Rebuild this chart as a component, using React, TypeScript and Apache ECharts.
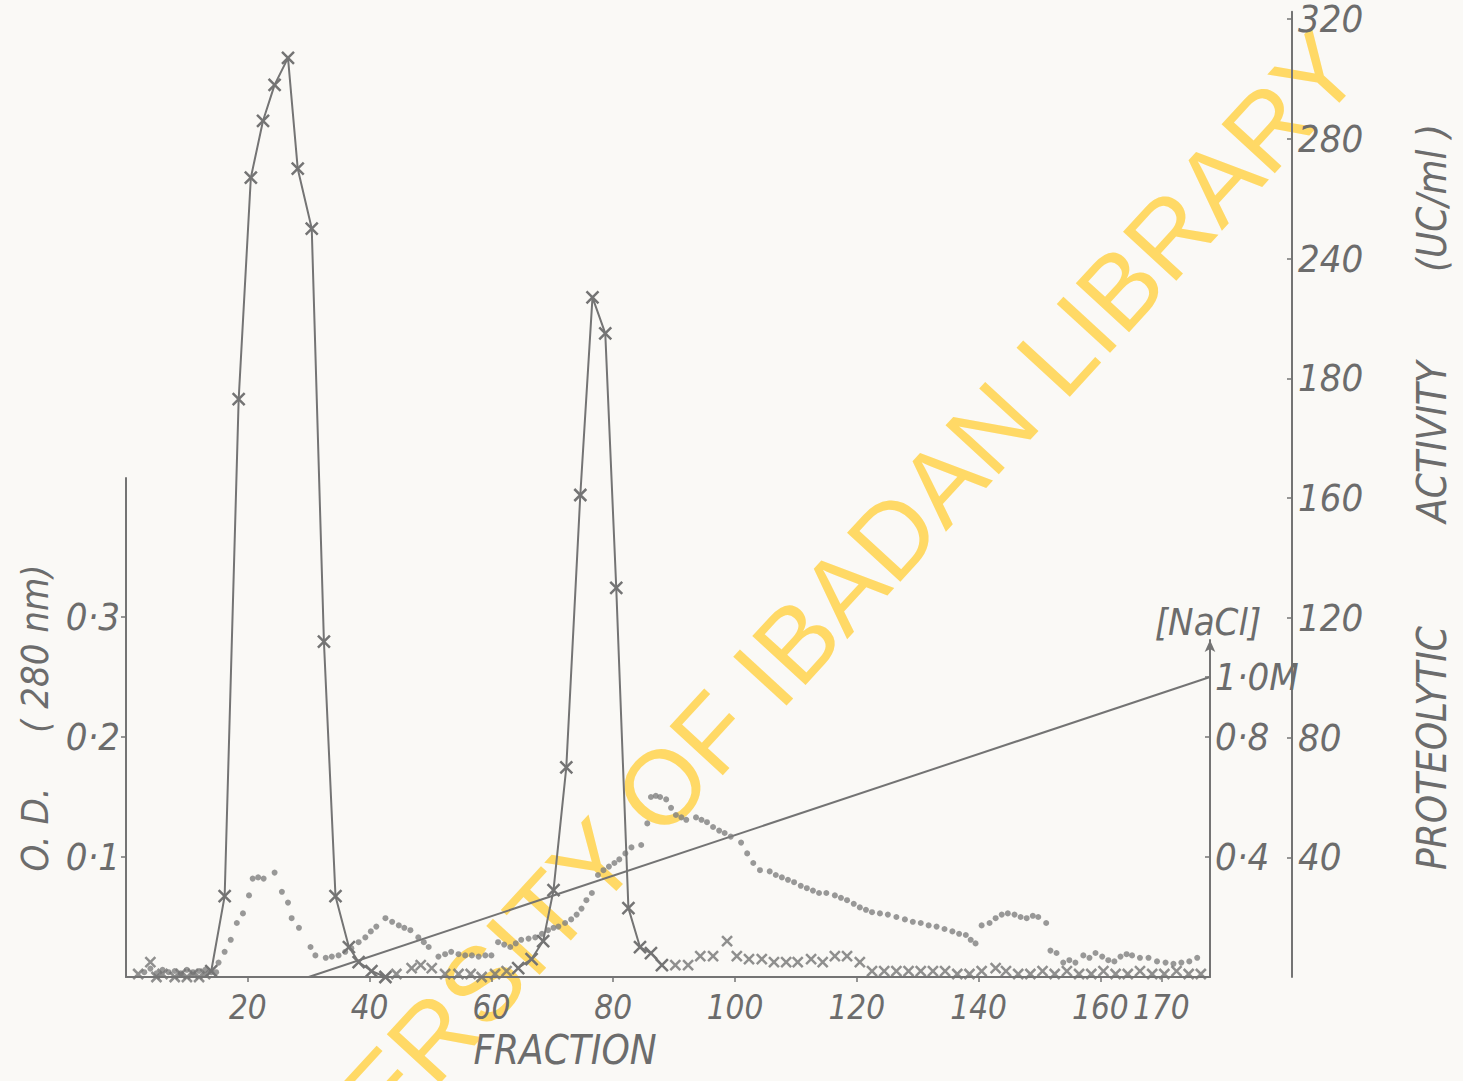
import React, { useEffect, useRef } from "react";
import * as echarts from "echarts";

// ---------- data ----------
const FRACTION_TICKS = [20, 40, 60, 80, 100, 120, 140, 160, 170];
const OD_TICKS = [0.1, 0.2, 0.3];
const OD_LABELS = ["0·1", "0·2", "0·3"];
const ACT_TICKS = [40, 80, 120, 160, 200, 240, 280, 320];
const ACT_LABELS = ["40", "80", "120", "160", "180", "240", "280", "320"];
const NACL_TICKS = [0.4, 0.8, 1.0];
const NACL_LABELS = ["0·4", "0·8", "1·0M"];

// proteolytic activity (UC/ml), crosses
const ACT_FRACTION = [
  2, 4, 5, 6, 8, 9, 10, 11, 12, 13,
  14, 16.2, 18.5, 20.5, 22.5, 24.4, 26.6, 28.2, 30.5, 32.5, 34.4, 36.6, 38.2, 40.3, 42.6,
  44.4, 46.9, 48.4, 50.2, 52.4, 54.6, 56.6, 58.4, 60.6, 62.5,
  64.4, 66.6, 68.5, 70.2, 72.3, 74.6, 76.6, 78.7, 80.5, 82.5, 84.4, 86.2, 88,
  90.2, 92.3, 94.3, 96.4, 98.7, 100.3, 102.3, 104.4, 106.4, 108.4, 110.3, 112.5, 114.4, 116.4,
  118.4, 120.5, 122.5, 124.5, 126.5, 128.5, 130.5, 132.5, 134.5, 136.5, 138.5, 140.5, 142.8,
  144.5, 146.5, 148.5, 150.5, 152.5, 154.5, 156.5, 158.5, 160.5, 162.5, 164.5, 166.5, 168.5,
  170.5, 172.5, 174.5, 176.5,
];
const ACT_VALUE = [
  1, 5, 0, 1, 0, 1, 0, 1, 0, 1,
  2, 27, 193, 267, 286, 298, 307, 270, 250, 112, 27, 10, 5, 2, 0,
  1, 3, 4, 3, 1, 1, 1, 0, 1, 2,
  3, 6, 12, 29, 70, 161, 227, 215, 130, 23, 10, 8, 4,
  4, 4, 7, 7, 12, 7, 6, 6, 5, 5, 5, 6, 5, 7,
  7, 5, 2, 2, 2, 2, 2, 2, 2, 1, 1, 2, 3,
  2, 1, 1, 2, 1, 2, 1, 1, 2, 1, 1, 2, 1,
  1, 2, 1, 1,
];
// fraction ranges where the activity points are joined by a line
const ACT_JOINED = [
  [14, 42.6],
  [64.4, 88],
];

// O.D. 280 nm, dots
const OD_FRACTION = [
  3, 4, 5, 6, 7, 8, 9, 10, 11, 12, 13, 14,
  14.8, 15.2, 16.2, 17.2, 18.2, 19.2, 20.2, 20.8, 21.7, 22.6, 24.4, 25.6, 26.6, 27.2, 28.4,
  30.3, 31.1, 32.8, 33.8, 34.9, 36, 37, 38.2, 39.3, 40.2, 41.1, 42.6, 43.7, 44.8, 45.7, 46.7,
  48, 48.9, 49.7, 51.3, 52.4, 53.4, 54.6, 55.7, 56.8, 57.9, 59, 60, 61.1, 62.1, 63.1, 64,
  64.9, 66.1, 67.2, 68.3, 69.3, 70.2, 71, 72.1, 73.1, 74, 74.8, 75.6, 76.5, 77.5, 78.4, 79.3,
  80.2, 81, 82, 83, 84.6, 85.6, 86.2, 87, 87.7, 88.7, 89.5, 90.3, 91.2, 92, 93.6, 94.5, 95.4,
  96.4, 97.4, 98.3, 99.3, 101, 102, 103, 104.1, 105.7, 106.7, 107.7, 108.7, 109.7, 110.8,
  111.8, 112.8, 113.8, 115, 116.4, 117.4, 118.4, 119.5, 120.5, 121.5, 122.5, 123.8, 125.1,
  126.5, 127.9, 129.2, 130.5, 131.8, 133.1, 134.4, 135.7, 136.8, 137.9, 138.7, 139.5, 140.5,
  141.8, 142.8, 143.8, 144.8, 145.9, 146.9, 147.9, 148.9, 149.8, 151.1,
  151.8, 152.8, 153.9, 154.9, 155.9, 157.2, 158.2, 159.2, 160.3, 161.3, 162.3, 163.3, 164.3,
  165.2, 166.5, 167.9, 169.3, 170.7, 172, 173.3, 174.6, 175.9,
];
const OD_VALUE = [
  0.004, 0.007, 0.003, 0.006, 0.004, 0.005, 0.003, 0.006, 0.004, 0.005, 0.006, 0.004,
  0.004, 0.012, 0.021, 0.031, 0.045, 0.053, 0.068, 0.082, 0.083, 0.082, 0.087, 0.071, 0.062, 0.049, 0.041,
  0.025, 0.018, 0.016, 0.017, 0.018, 0.021, 0.024, 0.029, 0.033, 0.038, 0.042, 0.049, 0.046, 0.043, 0.041, 0.039,
  0.033, 0.029, 0.025, 0.017, 0.019, 0.021, 0.019, 0.018, 0.018, 0.017, 0.018, 0.018, 0.029, 0.027, 0.025, 0.028,
  0.031, 0.032, 0.033, 0.036, 0.039, 0.041, 0.042, 0.045, 0.048, 0.052, 0.057, 0.064, 0.07, 0.085, 0.089, 0.092,
  0.095, 0.098, 0.103, 0.108, 0.11, 0.128, 0.15, 0.151, 0.15, 0.148, 0.141, 0.135, 0.133, 0.131, 0.133, 0.131, 0.129,
  0.125, 0.122, 0.12, 0.117, 0.112, 0.103, 0.095, 0.089, 0.088, 0.085, 0.083, 0.081, 0.079, 0.076,
  0.074, 0.072, 0.07, 0.07, 0.068, 0.066, 0.064, 0.061, 0.058, 0.056, 0.054, 0.053, 0.052,
  0.05, 0.048, 0.046, 0.045, 0.043, 0.042, 0.04, 0.038, 0.036, 0.035, 0.031, 0.028, 0.043,
  0.045, 0.049, 0.052, 0.053, 0.052, 0.05, 0.049, 0.051, 0.05, 0.045,
  0.022, 0.02, 0.012, 0.014, 0.012, 0.018, 0.016, 0.02, 0.017, 0.014, 0.013, 0.017, 0.019,
  0.018, 0.016, 0.016, 0.013, 0.012, 0.011, 0.012, 0.013, 0.016,
];

// NaCl gradient (M)
const NACL_FRACTION = [30, 178];
const NACL_VALUE = [0, 1.0];

// ---------- styling ----------
const INK = "#747474";
const TEXT = "#6c6c6c";
const FONT = "'DejaVu Sans Condensed', 'DejaVu Sans', sans-serif";
const CROSS = "path://M0,0L10,10M10,0L0,10";

const labelFor = (ticks: number[], labels: string[]) => (v: number) => {
  const i = ticks.findIndex((t) => Math.abs(t - v) < 1e-6);
  return i >= 0 ? labels[i] : "";
};

export default function App() {
  const ref = useRef<HTMLDivElement>(null);

  useEffect(() => {
    if (!ref.current) return;
    const chart = echarts.init(ref.current, undefined, { renderer: "svg" });

    const inJoined = (f: number) => ACT_JOINED.some(([a, b]) => f >= a && f <= b);
    const actLine = ACT_FRACTION.map((f, i) => (inJoined(f) ? [f, ACT_VALUE[i]] : [f, "-"]));
    const actLoose = ACT_FRACTION.map((f, i) => [f, ACT_VALUE[i]]).filter((p) => !inJoined(p[0] as number));
    const odData = OD_FRACTION.map((f, i) => [f, OD_VALUE[i]]);
    const naclData = NACL_FRACTION.map((f, i) => [f, NACL_VALUE[i]]);

    const gridBase = { left: 126, right: 253, bottom: 104 };
    const xBase = {
      type: "value",
      min: 0,
      max: 178,
      splitLine: { show: false },
      z: 2,
    };
    const labelStyle = {
      color: TEXT,
      fontFamily: FONT,
      fontStyle: "italic",
      fontSize: 38,
      hideOverlap: false,
    };

    chart.setOption({
      animation: false,
      backgroundColor: "#faf9f6",
      grid: [
        { ...gridBase, top: 0 },
        { ...gridBase, top: 478 },
        { ...gridBase, top: 640 },
      ],
      xAxis: [
        {
          ...xBase,
          gridIndex: 0,
          axisLine: { show: true, lineStyle: { color: INK, width: 2 } },
          axisTick: {
            show: true,
            length: 5,
            customValues: FRACTION_TICKS,
            lineStyle: { color: INK, width: 1.5 },
          },
          axisLabel: {
            ...labelStyle,
            fontSize: 33,
            margin: 14,
            customValues: FRACTION_TICKS,
            formatter: (v: number) => String(v),
          },
        },
        { ...xBase, gridIndex: 1, show: false },
        { ...xBase, gridIndex: 2, show: false },
      ],
      yAxis: [
        {
          // proteolytic activity
          type: "value",
          gridIndex: 0,
          position: "right",
          offset: 82,
          min: 0,
          max: 977 / 3.03,
          splitLine: { show: false },
          axisLine: { show: true, onZero: false, lineStyle: { color: INK, width: 2 } },
          axisTick: {
            show: true,
            inside: true,
            length: 5,
            customValues: ACT_TICKS,
            lineStyle: { color: INK, width: 1.5 },
          },
          axisLabel: {
            ...labelStyle,
            margin: 6,
            customValues: ACT_TICKS,
            formatter: labelFor(ACT_TICKS, ACT_LABELS),
          },
          z: 2,
        },
        {
          // O.D.
          type: "value",
          gridIndex: 1,
          position: "left",
          min: 0,
          max: (977 - 478) / 1200,
          splitLine: { show: false },
          axisLine: { show: true, onZero: false, lineStyle: { color: INK, width: 2 } },
          axisTick: {
            show: true,
            length: 5,
            customValues: OD_TICKS,
            lineStyle: { color: INK, width: 1.5 },
          },
          axisLabel: {
            ...labelStyle,
            margin: 6,
            customValues: OD_TICKS,
            formatter: labelFor(OD_TICKS, OD_LABELS),
          },
          z: 2,
        },
        {
          // NaCl
          type: "value",
          gridIndex: 2,
          position: "right",
          min: 0,
          max: 337 / 300,
          splitLine: { show: false },
          axisLine: {
            show: true,
            onZero: false,
            symbol: ["none", "arrow"],
            symbolSize: [8, 12],
            lineStyle: { color: INK, width: 2 },
          },
          axisTick: {
            show: true,
            inside: true,
            length: 5,
            customValues: NACL_TICKS,
            lineStyle: { color: INK, width: 1.5 },
          },
          axisLabel: {
            ...labelStyle,
            margin: 5,
            customValues: NACL_TICKS,
            formatter: labelFor(NACL_TICKS, NACL_LABELS),
          },
          z: 2,
        },
      ],
      series: [
        {
          name: "NaCl",
          type: "line",
          xAxisIndex: 2,
          yAxisIndex: 2,
          data: naclData,
          symbol: "none",
          lineStyle: { color: INK, width: 2 },
          z: 3,
        },
        {
          name: "O.D.",
          type: "scatter",
          xAxisIndex: 1,
          yAxisIndex: 1,
          data: odData,
          symbol: "circle",
          symbolSize: 6,
          itemStyle: { color: "#808080" },
          z: 3,
        },
        {
          name: "Activity",
          type: "line",
          xAxisIndex: 0,
          yAxisIndex: 0,
          data: actLine,
          connectNulls: false,
          symbol: CROSS,
          symbolSize: 12,
          showSymbol: true,
          lineStyle: { color: INK, width: 2 },
          itemStyle: { color: "rgba(0,0,0,0)", borderColor: INK, borderWidth: 2.5 },
          z: 4,
        },
        {
          name: "Activity loose",
          type: "scatter",
          xAxisIndex: 0,
          yAxisIndex: 0,
          data: actLoose,
          symbol: CROSS,
          symbolSize: 10,
          itemStyle: { color: "rgba(0,0,0,0)", borderColor: INK, borderWidth: 2.5 },
          z: 4,
        },
      ],
      graphic: [
        {
          type: "text",
          x: 765,
          y: 675,
          rotation: (47.5 * Math.PI) / 180,
          z: 0,
          silent: true,
          style: {
            text: "UNIVERSITY OF IBADAN LIBRARY",
            fill: "#FFD966",
            font: "105px 'Liberation Sans', Arial, sans-serif",
            textAlign: "center",
            textVerticalAlign: "middle",
          },
        },
        {
          type: "text",
          x: 565,
          y: 1050,
          z: 10,
          style: {
            text: "FRACTION",
            fill: TEXT,
            font: `italic 40px ${FONT}`,
            textAlign: "center",
            textVerticalAlign: "middle",
          },
        },
        {
          type: "text",
          x: 1208,
          y: 622,
          z: 10,
          style: {
            text: "[NaCl]",
            fill: TEXT,
            font: `italic 38px ${FONT}`,
            textAlign: "center",
            textVerticalAlign: "middle",
          },
        },
        {
          type: "text",
          x: 35,
          y: 718,
          rotation: Math.PI / 2,
          z: 10,
          style: {
            text: "O. D.     ( 280 nm)",
            fill: TEXT,
            font: `italic 38px ${FONT}`,
            textAlign: "center",
            textVerticalAlign: "middle",
          },
        },
        {
          type: "text",
          x: 1432,
          y: 748,
          rotation: Math.PI / 2,
          z: 10,
          style: {
            text: "PROTEOLYTIC",
            fill: TEXT,
            font: `italic 40px ${FONT}`,
            textAlign: "center",
            textVerticalAlign: "middle",
          },
        },
        {
          type: "text",
          x: 1432,
          y: 442,
          rotation: Math.PI / 2,
          z: 10,
          style: {
            text: "ACTIVITY",
            fill: TEXT,
            font: `italic 40px ${FONT}`,
            textAlign: "center",
            textVerticalAlign: "middle",
          },
        },
        {
          type: "text",
          x: 1432,
          y: 198,
          rotation: Math.PI / 2,
          z: 10,
          style: {
            text: "(UC/ml )",
            fill: TEXT,
            font: `italic 40px ${FONT}`,
            textAlign: "center",
            textVerticalAlign: "middle",
          },
        },
      ],
    });

    return () => chart.dispose();
  }, []);

  return (
    <div
      ref={ref}
      style={{ position: "fixed", left: 0, top: 0, width: 1463, height: 1081 }}
    />
  );
}
